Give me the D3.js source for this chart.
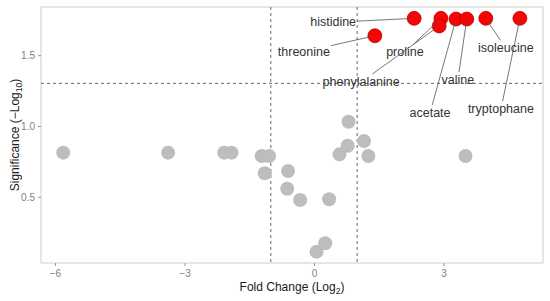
<!DOCTYPE html>
<html>
<head>
<meta charset="utf-8">
<script src="https://cdn.jsdelivr.net/npm/d3@7"></script>
<style>
  body { margin: 0; background: #fff; }
  text { font-family: "Liberation Sans", Arial, sans-serif; }
</style>
</head>
<body>
<script>
// gray (not significant) metabolites
const grayFC  = [-5.81, -3.38, -2.08, -1.91, -1.21, -1.04, -1.14, -0.60, -0.62, -0.32, 0.35, 0.06, 0.26, 0.59, 0.78, 0.80, 1.16, 1.26, 3.51];
const grayPV  = [0.812, 0.812, 0.812, 0.812, 0.788, 0.788, 0.666, 0.682, 0.557, 0.478, 0.483, 0.113, 0.172, 0.800, 0.861, 1.030, 0.894, 0.788, 0.788];

// significant metabolites
const sigNames = ["histidine", "threonine", "proline", "phenylalanine", "acetate", "valine", "isoleucine", "tryptophane"];
const sigFC    = [2.32, 1.41, 2.94, 2.90, 3.29, 3.54, 3.98, 4.77];
const sigPV    = [1.76, 1.637, 1.76, 1.706, 1.755, 1.755, 1.76, 1.76];

const xTicks = [-6, -3, 0, 3];
const yTicks = [0.5, 1.0, 1.5];
const fcCut = [-1, 1];
const pCut = 1.301;

// label placement (px offset of text centre from its point)
const labelOffsets = {
  histidine: [-81, 4], threonine: [-71, 16], proline: [-36, 34],
  phenylalanine: [-78, 56], acetate: [-26, 94], valine: [-9, 61],
  isoleucine: [20, 30], tryptophane: [-19, 91]
};

const width = 550, height = 301;
const margin = { left: 41, right: 7, top: 7, bottom: 38 };

const svg = d3.select("body").append("svg").attr("width", width).attr("height", height);

const x = d3.scaleLinear().domain([-6.324, 5.305]).range([margin.left, width - margin.right]);
const y = d3.scaleLinear().domain([0.033, 1.84]).range([height - margin.bottom, margin.top]);

// panel border
svg.append("rect")
  .attr("x", margin.left).attr("y", margin.top)
  .attr("width", width - margin.left - margin.right)
  .attr("height", height - margin.top - margin.bottom)
  .attr("fill", "none").attr("stroke", "#d6d6d6").attr("stroke-width", 1.2);

// axes
const xAxis = svg.append("g")
  .attr("transform", `translate(0,${height - margin.bottom})`)
  .call(d3.axisBottom(x).tickValues(xTicks).tickFormat(d3.format("d")).tickSize(3).tickPadding(4));
const yAxis = svg.append("g")
  .attr("transform", `translate(${margin.left},0)`)
  .call(d3.axisLeft(y).tickValues(yTicks).tickFormat(d3.format(".1f")).tickSize(3).tickPadding(3));
[xAxis, yAxis].forEach(a => {
  a.select(".domain").remove();
  a.selectAll(".tick line").attr("stroke", "#999");
  a.selectAll(".tick text").attr("fill", "#808080").style("font-size", "10px")
    .style("font-family", "'Liberation Sans', Arial, sans-serif");
});

// cut-off lines
svg.selectAll(".vcut").data(fcCut).enter().append("line")
  .attr("x1", d => x(d)).attr("x2", d => x(d))
  .attr("y1", margin.top).attr("y2", height - margin.bottom)
  .attr("stroke", "#555").attr("stroke-width", 0.9).attr("stroke-dasharray", "3,3");
svg.append("line")
  .attr("x1", margin.left).attr("x2", width - margin.right)
  .attr("y1", y(pCut)).attr("y2", y(pCut))
  .attr("stroke", "#555").attr("stroke-width", 0.9).attr("stroke-dasharray", "3,3");

// gray points
svg.selectAll(".gp").data(grayFC).enter().append("circle")
  .attr("cx", d => x(d)).attr("cy", (d, i) => y(grayPV[i]))
  .attr("r", 7).attr("fill", "#bdbdbd");

// red points
const sig = sigNames.map((n, i) => ({ name: n, fc: sigFC[i], pv: sigPV[i] }));
svg.selectAll(".rp").data(sig).enter().append("circle")
  .attr("cx", d => x(d.fc)).attr("cy", d => y(d.pv))
  .attr("r", 7).attr("fill", "#ff0000").attr("stroke", "#a80000").attr("stroke-width", 0.7);

// labels with leader segments
const segG = svg.append("g");
const labG = svg.append("g");
sig.forEach(d => {
  const px = x(d.fc), py = y(d.pv);
  const [dx, dy] = labelOffsets[d.name];
  const t = labG.append("text")
    .attr("x", px + dx).attr("y", py + dy)
    .attr("text-anchor", "middle").attr("dominant-baseline", "central")
    .attr("fill", "#333").style("font-size", "12.5px").text(d.name);
  const b = t.node().getBBox();
  const pad = 1;
  const x0 = b.x - pad, x1 = b.x + b.width + pad, y0 = b.y - pad, y1 = b.y + b.height + pad;
  const cx = px + dx, cy = py + dy;
  // where the segment from the label centre to the point leaves the box
  const vx = px - cx, vy = py - cy;
  let s = 1;
  if (vx !== 0) s = Math.min(s, Math.abs((vx > 0 ? x1 - cx : x0 - cx) / vx));
  if (vy !== 0) s = Math.min(s, Math.abs((vy > 0 ? y1 - cy : y0 - cy) / vy));
  segG.append("line")
    .attr("x1", cx + vx * s).attr("y1", cy + vy * s)
    .attr("x2", px).attr("y2", py)
    .attr("stroke", "#555").attr("stroke-width", 0.8);
});
labG.raise();

// axis titles
const xt = svg.append("text")
  .attr("x", (margin.left + width - margin.right) / 2).attr("y", 291)
  .attr("text-anchor", "middle").attr("fill", "#1a1a1a").style("font-size", "12px");
xt.append("tspan").text("Fold Change (Log");
xt.append("tspan").attr("dy", 3).style("font-size", "8.5px").text("2");
xt.append("tspan").attr("dy", -3).text(")");

const yt = svg.append("text")
  .attr("transform", `translate(19,${(margin.top + height - margin.bottom) / 2}) rotate(-90)`)
  .attr("text-anchor", "middle").attr("fill", "#1a1a1a").style("font-size", "12px");
yt.append("tspan").text("Significance (\u2212Log");
yt.append("tspan").attr("dy", 3).style("font-size", "8.5px").text("10");
yt.append("tspan").attr("dy", -3).text(")");
</script>
</body>
</html>
